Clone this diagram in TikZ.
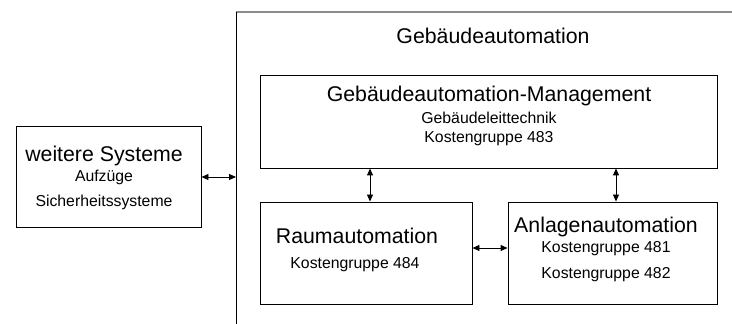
\documentclass[tikz,border=0pt]{standalone}
\usepackage{fontspec}
\setmainfont{Liberation Sans}
\usetikzlibrary{arrows.meta}
\begin{document}
\begin{tikzpicture}[x=1pt,y=1pt,
  box/.style={draw=black,line width=0.9pt,rectangle,inner sep=0pt},
  big/.style={anchor=base,inner sep=0pt,font=\fontsize{21.3}{25}\selectfont},
  small/.style={anchor=base,inner sep=0pt,font=\fontsize{15.8}{19}\selectfont},
  arr/.style={line width=0.9pt,{Triangle[length=7pt,width=6pt]}-{Triangle[length=7pt,width=6pt]}}]
\useasboundingbox (0,0) rectangle (732,324);
% outer frame
\coordinate (fTL) at (236,312);
\coordinate (fTR) at (732,312);
\coordinate (fBL) at (236,0);
\draw[line width=1.3pt,gray!90] (fTL) -- (fTR);
\draw[line width=0.9pt,black] (fTL) -- (fBL);
% boxes
\node[box,minimum width=185pt,minimum height=101pt] (ws) at (108.5,147.5) {};
\node[box,minimum width=457pt,minimum height=93pt] (gam) at (488.5,202.5) {};
\node[box,minimum width=212pt,minimum height=102pt] (ra) at (366,71) {};
\node[box,minimum width=209pt,minimum height=102pt] (aa) at (612.5,71) {};
% texts
\node[big] (tga) at (493,280) {Gebäudeautomation};
\node[big] (tgam) at (489,222) {Gebäudeautomation-Management};
\node[small] (tglt) at (489,200) {Gebäudeleittechnik};
\node[small] (tk483) at (489,181) {Kostengruppe 483};
\node[big] (tws) at (104,162) {weitere Systeme};
\node[small] (tauf) at (104,142) {Aufzüge};
\node[small] (tsich) at (104,117) {Sicherheitssysteme};
\node[big] (tra) at (357,80) {Raumautomation};
\node[small] (tk484) at (355,55) {Kostengruppe 484};
\node[big] (taa) at (606,91) {Anlagenautomation};
\node[small] (tk481) at (606,71) {Kostengruppe 481};
\node[small] (tk482) at (606,45) {Kostengruppe 482};
% connectors
\coordinate (fL) at (236,147);
\coordinate (v1) at (370,0);
\coordinate (v2) at (616,0);
\draw[arr] (ws.east |- fL) -- (fL);
\draw[arr] (gam.south -| v1) -- (ra.north -| v1);
\draw[arr] (gam.south -| v2) -- (aa.north -| v2);
\draw[arr] ([yshift=5pt]ra.east) -- ([yshift=5pt]aa.west);
\end{tikzpicture}
\end{document}
